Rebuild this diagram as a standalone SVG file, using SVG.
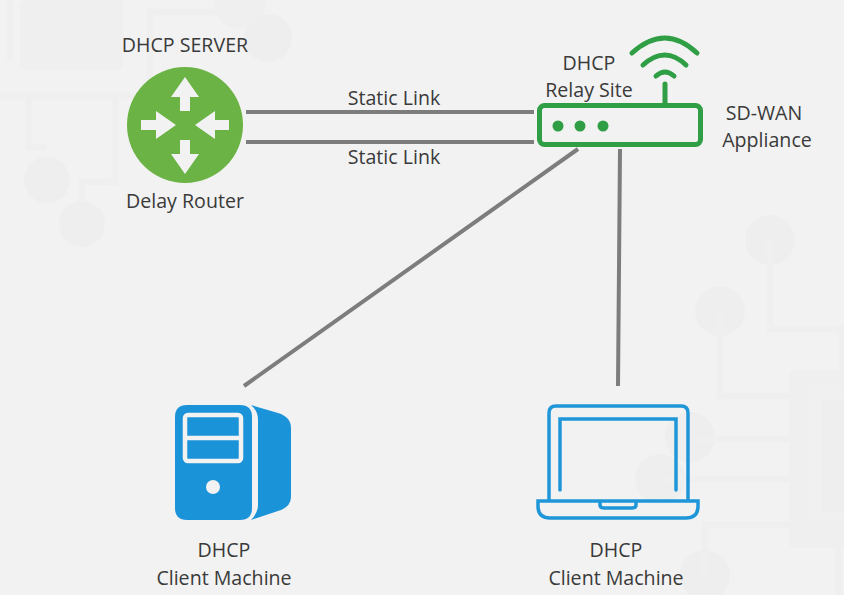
<svg xmlns="http://www.w3.org/2000/svg" width="844" height="595" viewBox="0 0 844 595">
<style>
.t{font-family:"Open Sans","Noto Sans",sans-serif;font-size:19.6px;fill:#3a3a3a;text-anchor:middle}
.bg{fill:none;stroke:#efefef;stroke-width:7}
.bf{fill:#eeeeee}
.c{fill:none;stroke:#7d7d7d;stroke-width:4}
.g{fill:none;stroke:#2f9e44;stroke-linecap:round;stroke-width:5}
.b{fill:none;stroke:#1f96d8;stroke-width:3.5}
</style>
<rect width="844" height="595" fill="#f2f2f2"/>
<g id="background">
<rect x="20" y="0" width="103" height="70" rx="6" fill="#efefef"/>
<path class="bg" d="M0 96H150V12H230M10 0V60M29 96V147H47M115 96V182H82V205"/>
<circle cx="47" cy="180" r="23" class="bf"/><circle cx="82" cy="224" r="23" class="bf"/>
<circle cx="268" cy="38" r="24" class="bf"/><circle cx="240" cy="3" r="26" fill="#efefef"/>
<circle cx="770" cy="240" r="25" class="bf"/><circle cx="720" cy="311" r="25" class="bf"/>
<circle cx="690" cy="437" r="25" class="bf"/><circle cx="660" cy="479" r="25" class="bf"/>
<circle cx="705" cy="575" r="25" class="bf"/>
<path class="bg" d="M770 240V329H842V372M720 311V396H795M690 439H795M660 479H795M705 575V525H795M838 548V595"/>
<rect x="789" y="370" width="70" height="178" rx="5" fill="#efefef"/>
<rect x="808" y="385" width="50" height="135" rx="4" fill="#f0f0f0"/>
<rect x="821" y="400" width="40" height="112" rx="4" fill="#eeeeee"/>
</g>
<g id="connectors">
<path class="c" d="M246 112H534M246 142H534M578 149L244 386M620 149L618 386"/>
</g>
<g id="delay-router">
<circle cx="185" cy="125" r="58" fill="#6ab344"/>
<path fill="#f2f2f2" d="M185 77L199 97H190V111H180V97H171ZM185 174L199 154H190V140H180V154H171ZM176 125L156 111V120H141V130H156V139ZM195 125L215 111V120H229V130H215V139Z"/>
<text class="t" x="185" y="52">DHCP SERVER</text>
<text class="t" x="185" y="208">Delay Router</text>
</g>
<g id="sd-wan-appliance">
<rect x="539.5" y="105.5" width="161" height="39" rx="5" fill="none" stroke="#2f9e44" stroke-width="5"/>
<circle cx="558" cy="126" r="5.5" fill="#2f9e44"/><circle cx="580" cy="126" r="5.5" fill="#2f9e44"/><circle cx="603" cy="126" r="5.5" fill="#2f9e44"/>
<path class="g" d="M665 104V84M656 76Q665 68 674 76M643 65Q665 45 686 65M632 53Q665 23 697 53"/>
<text class="t" x="589" y="70">DHCP</text>
<text class="t" x="589" y="96.5">Relay Site</text>
<text class="t" x="764" y="120">SD-WAN</text>
<text class="t" x="767" y="147">Appliance</text>
</g>
<g id="static-link-labels">
<text class="t" x="394" y="105">Static Link</text>
<text class="t" x="394" y="164">Static Link</text>
</g>
<g id="client-server">
<path fill="#1b93d9" d="M187 405H240Q252 405 252 417V508Q252 520 240 520H187Q175 520 175 508V417Q175 405 187 405Z"/>
<path fill="#1b93d9" d="M251 405L278 413Q291 417 291 428V497Q291 507 278 511L251 520Q258 513 258 505V420Q258 411 251 405Z"/>
<rect x="185" y="415" width="56" height="46" rx="3" fill="none" stroke="#f2f2f2" stroke-width="4.5"/>
<path stroke="#f2f2f2" stroke-width="4.5" d="M185 438H241"/>
<circle cx="213" cy="487" r="7" fill="#f2f2f2"/>
<text class="t" x="224" y="557">DHCP</text>
<text class="t" x="224" y="585">Client Machine</text>
</g>
<g id="client-laptop">
<path class="b" d="M549 501V413Q549 406 556 406H681Q688 406 688 413V501"/>
<path class="b" stroke-linecap="round" d="M560 490V419H676V490"/>
<path class="b" d="M538 501H698V506Q698 518 686 518H550Q538 518 538 506Z"/>
<path class="b" d="M600 502V505Q600 508 604 508H632Q636 508 636 505V502"/>
<text class="t" x="616" y="557">DHCP</text>
<text class="t" x="616" y="585">Client Machine</text>
</g>
</svg>
